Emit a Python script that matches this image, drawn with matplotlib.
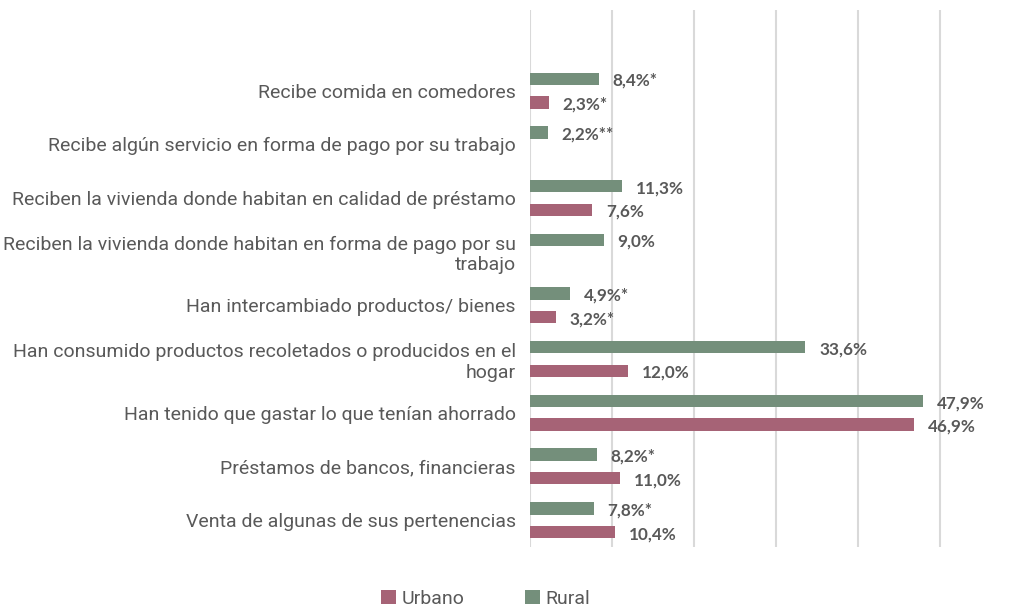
import numpy as np
import matplotlib.pyplot as plt

categorias = [
    "Recibe comida en comedores",
    "Recibe algún servicio en forma de pago por su trabajo",
    "Reciben la vivienda donde habitan en calidad de préstamo",
    "Reciben la vivienda donde habitan en forma de pago por su\ntrabajo",
    "Han intercambiado productos/ bienes",
    "Han consumido productos recoletados o producidos en el\nhogar",
    "Han tenido que gastar lo que tenían ahorrado",
    "Préstamos de bancos, financieras",
    "Venta de algunas de sus pertenencias",
]
rural = [8.4, 2.2, 11.3, 9.0, 4.9, 33.6, 47.9, 8.2, 7.8]
urbano = [2.3, np.nan, 7.6, np.nan, 3.2, 12.0, 46.9, 11.0, 10.4]
rural_notas = ["*", "**", "", "", "*", "", "", "*", "*"]
urbano_notas = ["*", "", "", "", "*", "", "", "", ""]

c_urbano = "#A66376"
c_rural = "#748F7B"
gris = "#595959"

fig = plt.figure(figsize=(10.12, 6.11), dpi=100)
ax = fig.add_axes([0.5234, 0.1047, 0.462, 0.879])

y = np.arange(len(categorias))
alto = 0.23
off = 0.22


def etiquetas(ax, ys, vals, notas):
    for yi, v, n in zip(ys, vals, notas):
        if np.isnan(v):
            continue
        txt = f"{v:.1f}".replace(".", ",") + "%" + n
        ax.annotate(txt, (v, yi), xytext=(10, -1.5), textcoords="offset points",
                    va="center", ha="left", fontsize=12.3, fontweight="bold",
                    family="Lato", color=gris)


mask_u = ~np.isnan(urbano)
ax.barh(y[mask_u] + off, np.array(urbano)[mask_u], height=alto, color=c_urbano, label="Urbano")
ax.barh(y - off, rural, height=alto, color=c_rural, label="Rural")
etiquetas(ax, y + off, urbano, urbano_notas)
etiquetas(ax, y - off, rural, rural_notas)

ax.set_xlim(0, 57)
ax.set_ylim(len(categorias) - 0.5, -1.5)
ax.set_xticks(np.arange(0, 51, 10))
ax.set_xticklabels([])
ax.set_yticks(y)
ax.set_yticklabels(categorias, fontsize=14, family="Roboto", color=gris, ha="right")
ax.tick_params(axis="both", length=0)
ax.tick_params(axis="y", pad=10)
ax.grid(axis="x", color="#D9D9D9", linewidth=1.5)
ax.set_axisbelow(True)
for s in ax.spines.values():
    s.set_visible(False)

fig.legend(loc="center", bbox_to_anchor=(0.48, 0.02), ncol=2, frameon=False,
           prop={"family": "Roboto", "size": 14}, labelcolor=gris,
           handlelength=0.75, handleheight=0.75, handletextpad=0.3, columnspacing=3.1,
           borderpad=0.1)

fig.savefig("out.png", dpi=100)
